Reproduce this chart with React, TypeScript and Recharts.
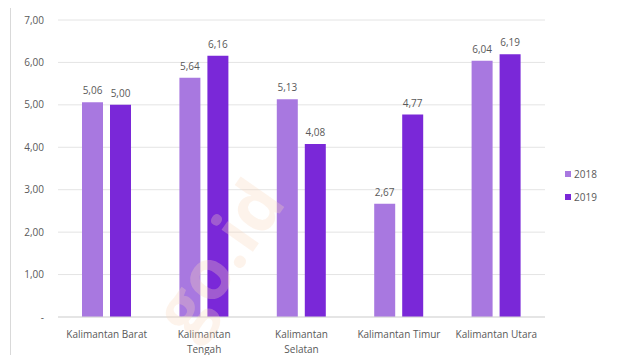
import { BarChart, Bar, XAxis, YAxis, CartesianGrid, LabelList } from 'recharts';

const categories = ['Kalimantan Barat', 'Kalimantan Tengah', 'Kalimantan Selatan', 'Kalimantan Timur', 'Kalimantan Utara'];
const tickLines = [['Kalimantan Barat'], ['Kalimantan', 'Tengah'], ['Kalimantan', 'Selatan'], ['Kalimantan Timur'], ['Kalimantan Utara']];
const values2018 = [5.06, 5.64, 5.13, 2.67, 6.04];
const values2019 = [5.0, 6.16, 4.08, 4.77, 6.19];
const yTicks = [0, 1, 2, 3, 4, 5, 6, 7];
const seriesNames = ['2018', '2019'];

const data = categories.map((name, i) => ({
  name,
  y2018: values2018[i],
  y2019: values2019[i],
}));

const COLOR_2018 = '#a878e0';
const COLOR_2019 = '#7a28d8';
const TEXT = '#595959';
const FONT = '"Open Sans", "DejaVu Sans", sans-serif';

const fmt = (v: number) => (v === 0 ? '-' : v.toFixed(2).replace('.', ','));

const XTick = ({ x, y, payload }: any) => {
  const lines = tickLines[payload.index] || [payload.value];
  return (
    <g transform={`translate(${x},${y})`}>
      {lines.map((l: string, i: number) => (
        <text key={i} x={0} y={13 + i * 15} textAnchor="middle" fill={TEXT} fontSize={10} fontFamily={FONT}>
          {l}
        </text>
      ))}
    </g>
  );
};

export default function App() {
  const colors = [COLOR_2018, COLOR_2019];
  return (
    <div style={{ margin: -8, width: 617, height: 363, position: 'relative', background: '#fff', overflow: 'hidden' }}>
      <div
        style={{
          position: 'absolute',
          left: 10,
          top: 4,
          width: 603,
          height: 362,
          border: '1px solid #d9d9d9',
          boxSizing: 'border-box',
        }}
      />
      <BarChart
        width={617}
        height={363}
        data={data}
        margin={{ top: 20, right: 72, bottom: 6, left: 0 }}
        barSize={21}
        barGap={7}
      >
        <CartesianGrid vertical={false} stroke="#e4e4e4" />
        <XAxis
          dataKey="name"
          interval={0}
          height={40}
          tick={<XTick />}
          tickLine={false}
          axisLine={{ stroke: '#d9d9d9' }}
        />
        <YAxis
          width={58}
          domain={[0, 7]}
          ticks={yTicks}
          tickFormatter={fmt}
          axisLine={false}
          tickLine={false}
          tickSize={6}
          tickMargin={8}
          tick={{ fontSize: 10, fill: TEXT, fontFamily: FONT }}
        />
        <Bar dataKey="y2018" name="2018" fill={COLOR_2018} isAnimationActive={false}>
          <LabelList dataKey="y2018" position="top" offset={8} formatter={(v: any) => fmt(Number(v))} fill={TEXT} fontSize={10} fontFamily={FONT} />
        </Bar>
        <Bar dataKey="y2019" name="2019" fill={COLOR_2019} isAnimationActive={false}>
          <LabelList dataKey="y2019" position="top" offset={8} formatter={(v: any) => fmt(Number(v))} fill={TEXT} fontSize={10} fontFamily={FONT} />
        </Bar>
      </BarChart>
      {/* legend placed by hand so it does not shrink the plot */}
      <div style={{ position: 'absolute', left: 565, top: 162, fontFamily: FONT, fontSize: 10, color: TEXT }}>
        {seriesNames.map((label, i) => (
          <div key={label} style={{ display: 'flex', alignItems: 'center', height: 23 }}>
            <span style={{ width: 6, height: 6, background: colors[i], marginRight: 3, display: 'inline-block' }} />
            {label}
          </div>
        ))}
      </div>
      <div
        style={{
          position: 'absolute',
          left: 140,
          top: 305,
          fontFamily: FONT,
          fontWeight: 700,
          fontSize: 70,
          lineHeight: 1,
          color: 'rgba(248, 215, 190, 0.3)',
          transform: 'rotate(-55deg)',
          transformOrigin: 'left top',
          pointerEvents: 'none',
          whiteSpace: 'nowrap',
        }}
      >
        go.id
      </div>
    </div>
  );
}
